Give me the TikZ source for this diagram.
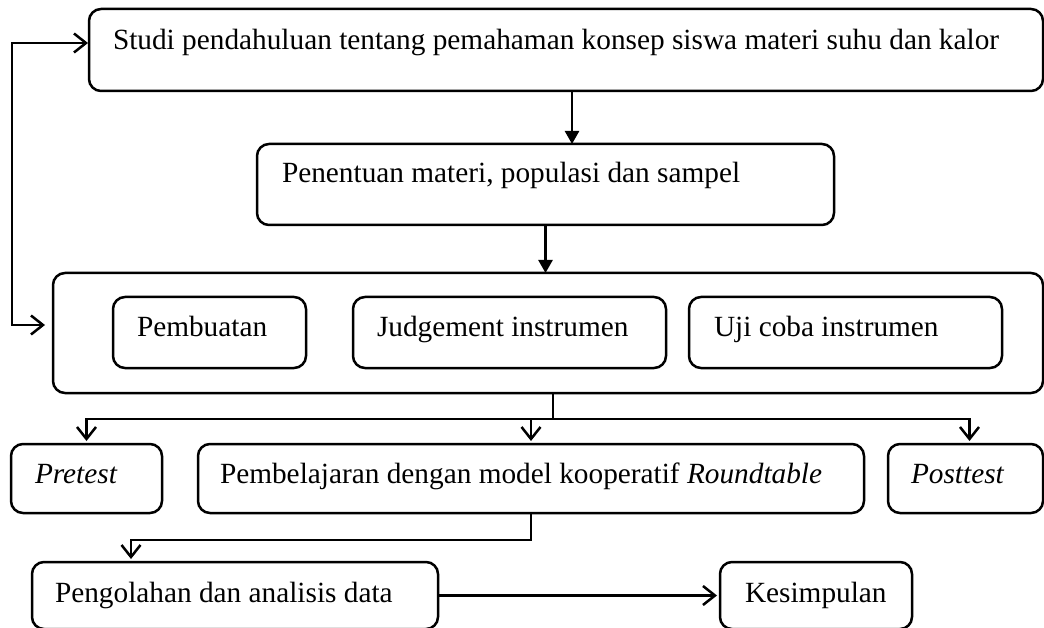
\documentclass[tikz,border=0pt]{standalone}
\usepackage{fontspec}
\setmainfont{Liberation Serif}
\usetikzlibrary{arrows.meta,calc}
\begin{document}
\begin{tikzpicture}[x=1pt,y=-1pt,
  box/.style={draw, line width=2.5pt, rounded corners=12pt, inner sep=0pt, outer sep=0pt, anchor=north west},
  lbl/.style={anchor=base west, inner sep=0pt, outer sep=0pt, font=\fontsize{29.3}{35}\selectfont},
  con/.style={line width=2.5pt},
  openarr/.style={con, -{Straight Barb[length=12pt,width=19pt]}, shorten >=3pt},
  fillarr/.style={con, -{Triangle[length=13pt,width=14pt]}}
]
\useasboundingbox (0,0) rectangle (1044,628);
\clip (0,0) rectangle (1044,628);
\fill[white] (0,0) rectangle (1044,628);

% boxes
\node[box, minimum width=954pt, minimum height=82pt] (studi) at (89,9) {};
\node[box, minimum width=577pt, minimum height=81pt] (pen) at (257,144) {};
\node[box, minimum width=990pt, minimum height=120pt] (big) at (53,273) {};
\node[box, minimum width=193pt, minimum height=71pt] (pbt) at (113,297) {};
\node[box, minimum width=313pt, minimum height=71pt] (judg) at (353,297) {};
\node[box, minimum width=313pt, minimum height=71pt] (uji) at (689,297) {};
\node[box, minimum width=151pt, minimum height=69pt] (pre) at (11,444) {};
\node[box, minimum width=666pt, minimum height=69pt] (pemb) at (198,444) {};
\node[box, minimum width=155pt, minimum height=69pt] (post) at (888,444) {};
\node[box, minimum width=406pt, minimum height=67pt] (olah) at (32,562) {};
\node[box, minimum width=192pt, minimum height=67pt] (kes) at (720,562) {};

% labels
\node[lbl] (tstudi) at (113,50) {Studi pendahuluan tentang pemahaman konsep siswa materi suhu dan kalor};
\node[lbl] (tpen) at (282,183) {Penentuan materi, populasi dan sampel};
\node[lbl] (tpbt) at (137,337) {Pembuatan};
\node[lbl] (tjudg) at (377,337) {Judgement instrumen};
\node[lbl] (tuji) at (714,337) {Uji coba instrumen};
\node[lbl] (tpre) at (35,483) {\textit{Pretest}};
\node[lbl] (tpemb) at (220,483) {Pembelajaran dengan model kooperatif \textit{Roundtable}};
\node[lbl] (tpost) at (911,483) {\textit{Posttest}};
\node[lbl] (tolah) at (55,602) {Pengolahan dan analisis data};
\node[lbl] (tkes) at (745,602) {Kesimpulan};

% connectors
\draw[fillarr] ([xshift=6pt]studi.south) -- ([xshift=6pt]studi.south |- pen.north);
\draw[fillarr] (pen.south) -- (pen.south |- big.north);

\coordinate (br) at ($(big.south)+(5,26)$);
\draw[con] ([xshift=5pt]big.south) -- (br);
\draw[openarr] (br) -| (pre.north);
\draw[openarr] (br) -| ([xshift=4pt]post.north);
\draw[openarr] (pemb.north |- br) -- (pemb.north);

\coordinate (bb) at ($(pemb.south)+(0,27)$);
\draw[openarr] (pemb.south) -- (bb) -| ([xshift=-104pt]olah.north);
\draw[openarr] (olah.east) -- (kes.west);

\coordinate (fb) at (12,325);
\draw[con, {Straight Barb[length=12pt,width=19pt]}-{Straight Barb[length=12pt,width=19pt]}, shorten <=8pt, shorten >=1pt]
  (big.west |- fb) -- (fb) |- (studi.west |- 0,43);
\end{tikzpicture}
\end{document}
